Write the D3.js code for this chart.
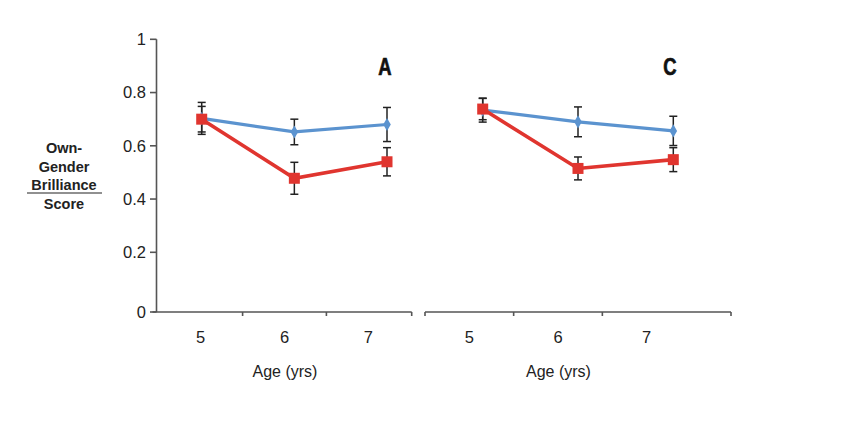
<!DOCTYPE html>
<html lang="en">
  <head>
    <meta charset="utf-8" />
    <title>Own-Gender Brilliance Score</title>
    <script src="https://cdnjs.cloudflare.com/ajax/libs/d3/7.8.5/d3.min.js"></script>
    <style>
      body {
        margin: 0;
        background: #fff;
        font-family: "Liberation Sans", Arial, sans-serif;
      }
      .tick-label {
        font-size: 16.5px;
        fill: #222;
      }
      .axis-line {
        stroke: #555;
        stroke-width: 1.6px;
        fill: none;
      }
      .err {
        stroke: #222;
        stroke-width: 1.5px;
      }
    </style>
  </head>
  <body>
    <svg id="chart" width="859" height="427"></svg>
    <script>
      // data
      const ages = ["5", "6", "7"];
      const yTicks = [0, 0.2, 0.4, 0.6, 0.8, 1];

      const boysA = [0.703, 0.652, 0.680];
      const boysAErr = [0.06, 0.048, 0.064];
      const girlsA = [0.700, 0.478, 0.540];
      const girlsAErr = [0.048, 0.060, 0.053];

      const boysC = [0.734, 0.690, 0.656];
      const boysCErr = [0.045, 0.056, 0.055];
      const girlsC = [0.738, 0.515, 0.548];
      const girlsCErr = [0.04, 0.043, 0.045];

      const blue = "#5b93cf";
      const red = "#e0352f";

      const svg = d3.select("#chart");

      // y axis is slightly broken below 0.2, so piecewise
      const y = d3.scaleLinear().domain([0, 0.2, 1]).range([312, 252.3, 39.3]);

      // shared y axis on the left
      svg.append("line").attr("class", "axis-line")
        .attr("x1", 156.5).attr("x2", 156.5)
        .attr("y1", y(1)).attr("y2", y(0));
      yTicks.forEach((t) => {
        svg.append("line").attr("class", "axis-line")
          .attr("x1", 150).attr("x2", 156.5)
          .attr("y1", y(t)).attr("y2", y(t));
        svg.append("text").attr("class", "tick-label")
          .attr("x", 146).attr("y", y(t)).attr("dy", "0.35em")
          .attr("text-anchor", "end")
          .text(d3.format("~g")(t));
      });

      // y title
      const yTitle = svg.append("g").attr("transform", "translate(64,0)")
        .style("font-weight", "bold").style("font-size", "14.5px");
      [["Own-", 147.7], ["Gender", 166.5], ["Brilliance", 185], ["Score", 203.5]].forEach(([t, yy]) => {
        yTitle.append("text").attr("x", 0).attr("y", yy).attr("dy", "0.35em")
          .attr("text-anchor", "middle").attr("fill", "#222").text(t);
      });
      yTitle.append("line").attr("x1", -37).attr("x2", 38)
        .attr("y1", 193).attr("y2", 193)
        .attr("stroke", "#222").attr("stroke-width", 1.2);

      const panels = [
        {
          label: "A", labelX: 385, axis: [152.5, 411.7],
          ticksRange: [200.7, 368.3], ptsRange: [201.7, 387],
          boys: boysA, boysErr: boysAErr, girls: girlsA, girlsErr: girlsAErr,
        },
        {
          label: "C", labelX: 670, axis: [425, 731],
          ticksRange: [469.3, 646.7], ptsRange: [482.7, 673.3],
          boys: boysC, boysErr: boysCErr, girls: girlsC, girlsErr: girlsCErr,
        },
      ];

      panels.forEach((p) => {
        const xl = d3.scalePoint().domain(ages).range(p.ticksRange);
        const xp = d3.scalePoint().domain(ages).range(p.ptsRange);
        const g = svg.append("g");
        const y0 = y(0);

        // x axis
        g.append("line").attr("class", "axis-line")
          .attr("x1", p.axis[0]).attr("x2", p.axis[1])
          .attr("y1", y0).attr("y2", y0);
        const tickXs = [p.axis[1]];
        if (p.label === "C") tickXs.push(p.axis[0]);
        for (let i = 0; i < ages.length - 1; i++) {
          tickXs.push((xl(ages[i]) + xl(ages[i + 1])) / 2);
        }
        tickXs.forEach((tx) => {
          g.append("line").attr("class", "axis-line")
            .attr("x1", tx).attr("x2", tx)
            .attr("y1", y0).attr("y2", y0 + 4);
        });
        ages.forEach((a) => {
          g.append("text").attr("class", "tick-label")
            .attr("x", xl(a)).attr("y", 337).attr("dy", "0.35em")
            .attr("text-anchor", "middle").text(a);
        });
        g.append("text").attr("class", "tick-label")
          .style("font-size", "16px")
          .attr("x", (xl("5") + xl("7")) / 2 + 0.5).attr("y", 371).attr("dy", "0.35em")
          .attr("text-anchor", "middle").text("Age (yrs)");

        // panel letter, condensed heavy bold
        g.append("text")
          .attr("transform", `translate(${p.labelX},75) scale(0.8,1)`)
          .attr("text-anchor", "middle")
          .style("font-weight", "bold").style("font-size", "23px")
          .attr("fill", "#111").attr("stroke", "#111").attr("stroke-width", 0.7)
          .text(p.label);

        // error bars
        const drawErr = (vals, errs) => {
          vals.forEach((v, i) => {
            const cx = xp(ages[i]);
            const top = y(v + errs[i]);
            const bot = y(v - errs[i]);
            g.append("line").attr("class", "err")
              .attr("x1", cx).attr("x2", cx).attr("y1", top).attr("y2", bot);
            [top, bot].forEach((yy) => {
              g.append("line").attr("class", "err")
                .attr("x1", cx - 4).attr("x2", cx + 4).attr("y1", yy).attr("y2", yy);
            });
          });
        };
        drawErr(p.boys, p.boysErr);
        drawErr(p.girls, p.girlsErr);

        const line = d3.line().x((d, i) => xp(ages[i])).y((d) => y(d));

        // boys (blue, diamonds)
        g.append("path").datum(p.boys).attr("d", line)
          .attr("fill", "none").attr("stroke", blue).attr("stroke-width", 3.2);
        g.selectAll(".dia").data(p.boys).enter().append("path")
          .attr("d", d3.symbol(d3.symbolDiamond, 50))
          .attr("transform", (d, i) => `translate(${xp(ages[i])},${y(d)})`)
          .attr("fill", blue);

        // girls (red, squares)
        g.append("path").datum(p.girls).attr("d", line)
          .attr("fill", "none").attr("stroke", red).attr("stroke-width", 3.6);
        g.selectAll(".sq").data(p.girls).enter().append("rect")
          .attr("x", (d, i) => xp(ages[i]) - 5.5)
          .attr("y", (d) => y(d) - 5.5)
          .attr("width", 11).attr("height", 11)
          .attr("fill", red);
      });
    </script>
  </body>
</html>
